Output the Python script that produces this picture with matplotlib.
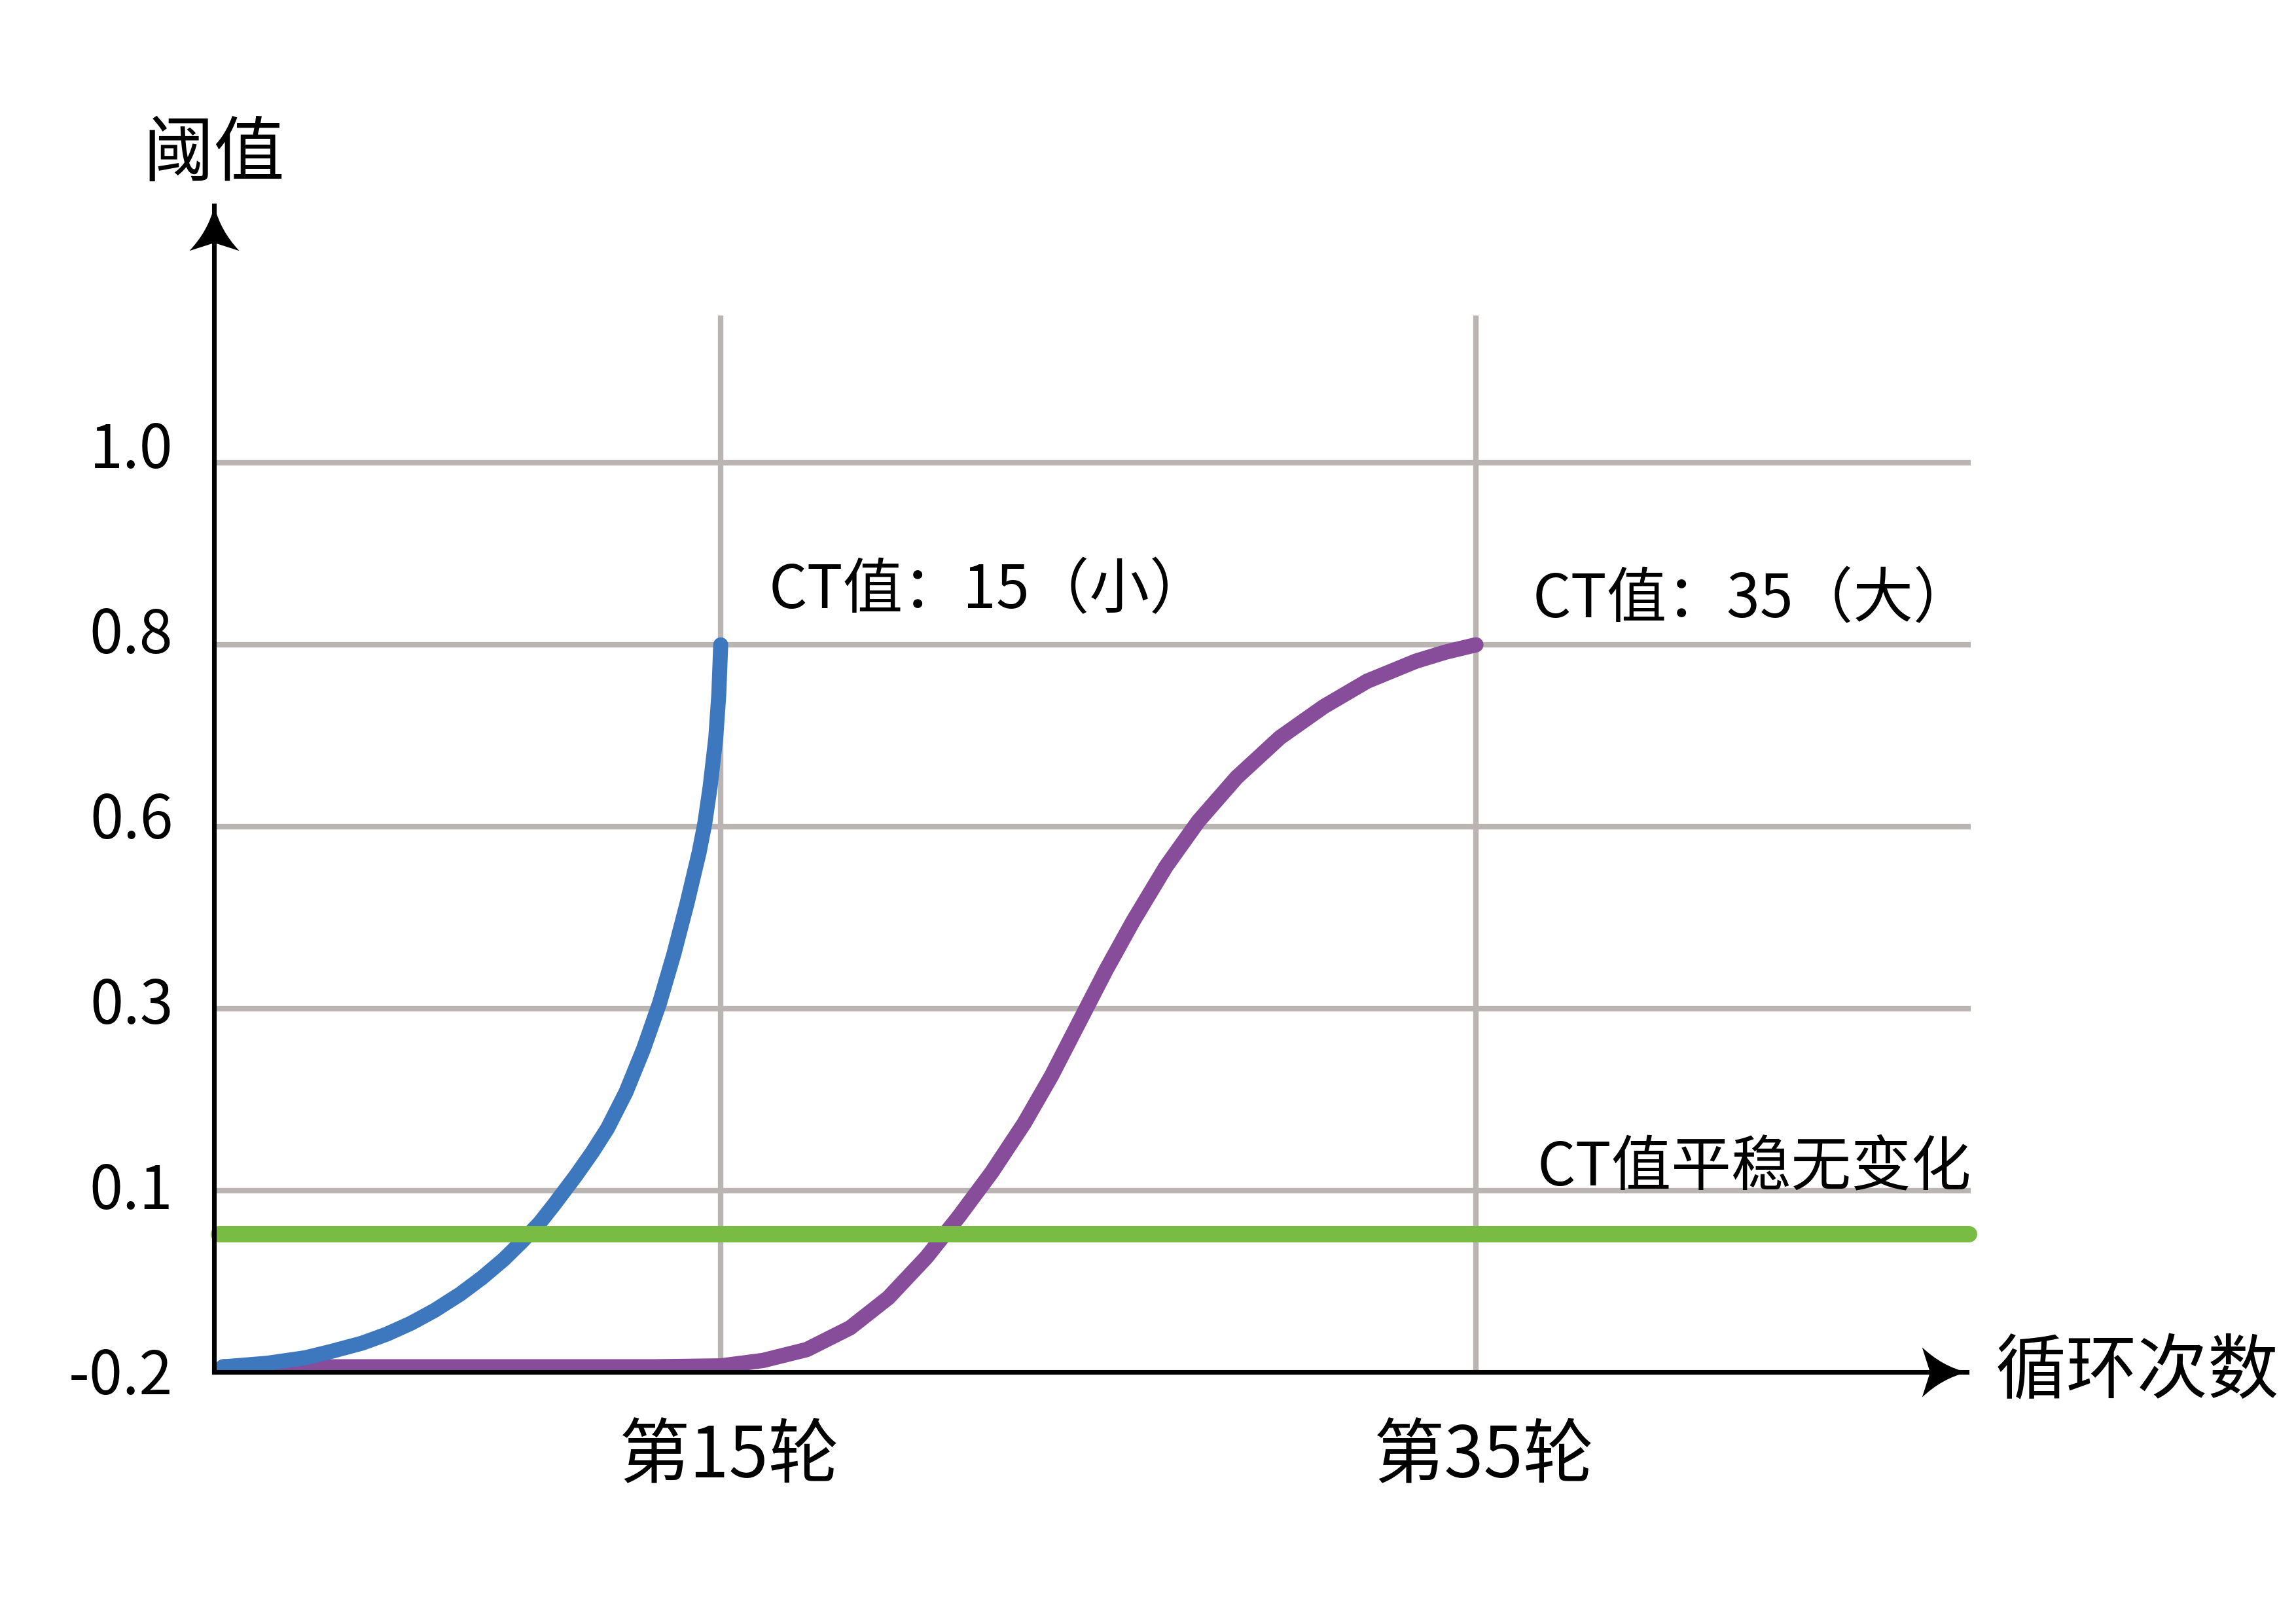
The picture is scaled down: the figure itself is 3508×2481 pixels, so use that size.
import numpy as np
import matplotlib
matplotlib.use("Agg")
import matplotlib.pyplot as plt
import matplotlib.transforms as mtransforms
from matplotlib.path import Path

plt.rcParams['font.family'] = ['Noto Sans CJK SC', 'DejaVu Sans']

# y axis is drawn as evenly spaced levels, labelled with these threshold values
level_labels = ['-0.2', '0.1', '0.3', '0.6', '0.8', '1.0']
levels = np.arange(len(level_labels))

cycle_ticks = [15, 35]
cycle_labels = ['第15轮', '第35轮']

# blue curve, CT = 15
blue_x = [1.82, 3.0, 4.0, 4.69, 5.5, 6.16, 6.8, 7.42, 8.1, 8.68,
          9.25, 9.74, 10.2, 10.58, 11.16, 11.6, 12.0, 12.49, 12.96, 13.38,
          13.76, 14.11, 14.43, 14.58, 14.72, 14.87, 14.95, 15.0]
blue_y = [0.03, 0.05, 0.08, 0.115, 0.16, 0.21, 0.27, 0.34, 0.43, 0.52,
          0.62, 0.72, 0.82, 0.92, 1.08, 1.21, 1.34, 1.54, 1.78, 2.03,
          2.30, 2.58, 2.86, 3.02, 3.22, 3.49, 3.73, 4.0]

# purple curve, CT = 35
purple_x = [1.82, 13.24, 15.0, 16.12, 17.28, 18.43, 19.44, 20.45, 21.31, 22.18,
            23.04, 23.76, 24.48, 25.2, 25.92, 26.79, 27.65, 28.66, 29.81, 30.97,
            32.12, 33.41, 34.2, 35.0]
purple_y = [0.03, 0.03, 0.035, 0.065, 0.125, 0.245, 0.41, 0.633, 0.857, 1.10,
            1.37, 1.63, 1.92, 2.21, 2.48, 2.78, 3.03, 3.27, 3.49, 3.66,
            3.80, 3.91, 3.96, 4.0]

# green flat line
green_x = [1.7, 48.05]
green_y = [0.76, 0.76]

x0, x1 = 1.58, 48.0
ytop = 6.415

fig = plt.figure(figsize=(3508 / 300, 2481 / 300), dpi=300)
ax = fig.add_axes([0.0932, 0.155, 0.8566 - 0.0932, 0.7184])
ax.set_xlim(x0, x1)
ax.set_ylim(0, ytop)

grid_c = '#bab5b2'
ax.hlines(levels[1:], x0, 48.1, color=grid_c, lw=2.0, zorder=1, clip_on=False)
ax.vlines(cycle_ticks, 0, 5.81, color=grid_c, lw=2.0, zorder=1)

ax.plot(purple_x, purple_y, color='#874c9a', lw=5.6, solid_capstyle='round',
        solid_joinstyle='round', zorder=3)
ax.plot(blue_x, blue_y, color='#3d78bf', lw=5.5, solid_capstyle='round',
        solid_joinstyle='round', zorder=4)
ax.plot(green_x, green_y, color='#78bc44', lw=6.0, solid_capstyle='round',
        zorder=5, clip_on=False)

for s in ['top', 'right']:
    ax.spines[s].set_visible(False)
for s in ['left', 'bottom']:
    ax.spines[s].set_linewidth(1.7)
    ax.spines[s].set_color('black')
    ax.spines[s].set_zorder(6)

# arrow heads with concave sides
C3 = Path.CURVE3
head_up = Path([(0, 0), (-0.12, -0.5), (-0.5, -0.9), (0, -0.74), (0.5, -0.9),
                (0.12, -0.5), (0, 0), (0, 0)],
               [Path.MOVETO, C3, C3, Path.LINETO, Path.LINETO, C3, C3, Path.CLOSEPOLY])
head_right = Path([(0, 0), (-0.5, 0.12), (-0.9, 0.5), (-0.74, 0), (-0.9, -0.5),
                   (-0.5, -0.12), (0, 0), (0, 0)],
                  [Path.MOVETO, C3, C3, Path.LINETO, Path.LINETO, C3, C3, Path.CLOSEPOLY])
ax.plot([x0], [ytop], marker=head_up, ms=33, color='black', mew=0, clip_on=False, zorder=7)
ax.plot([x1], [0], marker=head_right, ms=33, color='black', mew=0, clip_on=False, zorder=7)

ax.set_yticks(levels)
ax.set_yticklabels(level_labels)
ax.set_xticks(cycle_ticks)
ax.set_xticklabels(cycle_labels)
ax.tick_params(axis='y', length=0, pad=15, labelsize=22)
ax.tick_params(axis='x', length=0, pad=18, labelsize=26)
# labels sit a little above their grid lines, more so higher up
for i, lab in enumerate(ax.get_yticklabels()):
    dy = (3 + 5.2 * i) / 300
    lab.set_transform(lab.get_transform() +
                      mtransforms.ScaledTranslation(0, dy, fig.dpi_scale_trans))
for lab in ax.get_xticklabels():
    lab.set_transform(lab.get_transform() +
                      mtransforms.ScaledTranslation(12 / 300, 0, fig.dpi_scale_trans))

ax.text(x0, 6.69, '阈值', fontsize=26, ha='center', va='center', clip_on=False)
ax.text(48.75, 0.0, '循环次数', fontsize=26, ha='left', va='center', clip_on=False)

ax.text(16.28, 4.2, 'CT值：15（小）', fontsize=22, ha='left', va='baseline')
ax.text(36.5, 4.15, 'CT值：35（大）', fontsize=22, ha='left', va='baseline')
ax.text(36.63, 1.03, 'CT值平稳无变化', fontsize=22, ha='left', va='baseline')

fig.savefig('out.png', dpi=300)
